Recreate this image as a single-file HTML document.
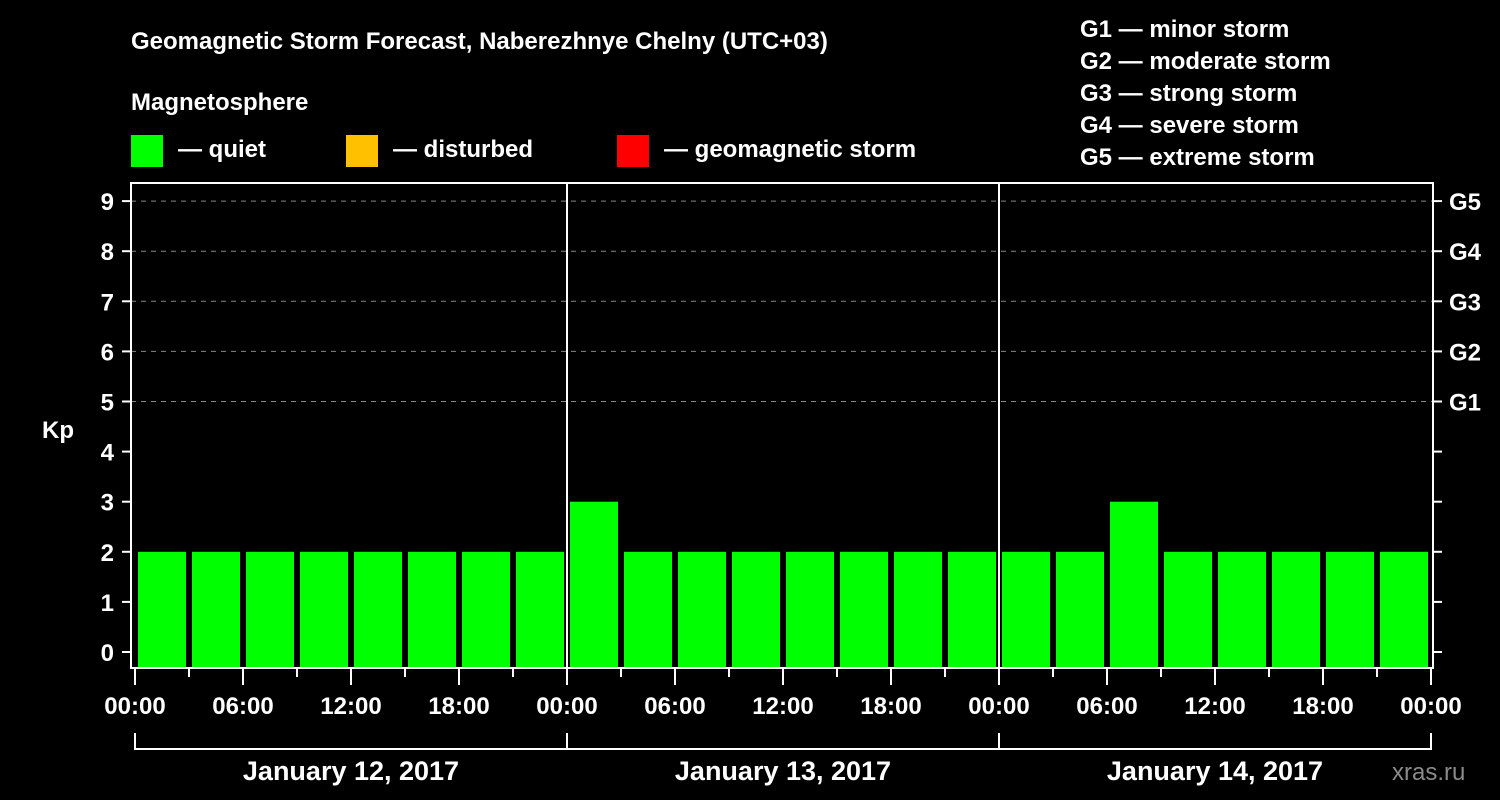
<!DOCTYPE html>
<html><head><meta charset="utf-8"><style>
html,body{margin:0;padding:0;background:#000;width:1500px;height:800px;overflow:hidden}
svg text{font-family:"Liberation Sans",Arial,sans-serif;font-weight:bold;fill:#fff}
</style></head><body>
<svg id="chart" width="1500" height="800" xmlns="http://www.w3.org/2000/svg">
<rect width="1500" height="800" fill="#000"/>
<text x="131" y="49" font-size="24">Geomagnetic Storm Forecast, Naberezhnye Chelny (UTC+03)</text>
<text x="131" y="110" font-size="24">Magnetosphere</text>
<g><rect x="131" y="135" width="32" height="32" fill="#00ff00"/><text x="178" y="157" font-size="24">— quiet</text></g>
<g><rect x="346" y="135" width="32" height="32" fill="#ffc000"/><text x="393" y="157" font-size="24">— disturbed</text></g>
<g><rect x="617" y="135" width="32" height="32" fill="#ff0000"/><text x="664" y="157" font-size="24">— geomagnetic storm</text></g>
<g font-size="24">
<text x="1080" y="37">G1 — minor storm</text>
<text x="1080" y="69">G2 — moderate storm</text>
<text x="1080" y="101">G3 — strong storm</text>
<text x="1080" y="133">G4 — severe storm</text>
<text x="1080" y="165">G5 — extreme storm</text>
</g>
<text x="42" y="438" font-size="24">Kp</text>
<g id="grid"></g><g id="bars"></g><g id="axes"></g>
<text x="1392" y="780" font-size="24" fill="#888" style="fill:#8a8a8a;font-weight:normal">xras.ru</text>
</svg>
<script>
const days=["January 12, 2017","January 13, 2017","January 14, 2017"];
const kpValues=[2,2,2,2,2,2,2,2, 3,2,2,2,2,2,2,2, 2,2,3,2,2,2,2,2];
const yTicks=[0,1,2,3,4,5,6,7,8,9];
const gLabels=["G1","G2","G3","G4","G5"];
const gLevels=[5,6,7,8,9];
const hourLabels=["00:00","06:00","12:00","18:00"];
const NS="http://www.w3.org/2000/svg";
const X0=135,DAY=432,TOP=183,BOT=668,L=131,R=1433;
const xs=h=>X0+h*DAY/24;
const ys=k=>652-k*50.1;
function mk(p,t,a){const e=document.createElementNS(NS,t);for(const k in a)e.setAttribute(k,a[k]);p.appendChild(e);return e;}
const grid=document.getElementById('grid'),bars=document.getElementById('bars'),ax=document.getElementById('axes');
gLevels.forEach(k=>{const l=mk(grid,'line',{x1:L,x2:R,y1:ys(k),y2:ys(k),stroke:'#888','stroke-dasharray':'5,5','stroke-width':1});

});
kpValues.forEach((v,i)=>{const x=xs(i*3);
const col=v>=5?'#ff0000':(v>=4?'#ffc000':'#00ff00');
const r=mk(bars,'rect',{x:x+3,y:ys(v),width:48,height:BOT-ys(v),fill:col});

});
const fr=mk(ax,'rect',{x:L,y:TOP,width:R-L,height:BOT-TOP,fill:'none',stroke:'#fff','stroke-width':2});


for(let d=1;d<days.length;d++){const l=mk(ax,'line',{x1:xs(d*24),x2:xs(d*24),y1:TOP,y2:BOT,stroke:'#fff','stroke-width':2});

}
yTicks.forEach(k=>{mk(ax,'line',{x1:122,x2:L,y1:ys(k),y2:ys(k),stroke:'#fff','stroke-width':2});
mk(ax,'line',{x1:R,x2:R+9,y1:ys(k),y2:ys(k),stroke:'#fff','stroke-width':2});
const t=mk(ax,'text',{x:114,y:ys(k)+9,'font-size':24,'text-anchor':'end'});t.textContent=k;

});
gLevels.forEach((k,i)=>{const t=mk(ax,'text',{x:1449,y:ys(k)+9,'font-size':24});t.textContent=gLabels[i];

});
for(let h=0;h<=days.length*24;h+=3){const major=h%6===0;
mk(ax,'line',{x1:xs(h),x2:xs(h),y1:BOT,y2:major?685:677,stroke:'#fff','stroke-width':2});
if(major){const t=mk(ax,'text',{x:xs(h),y:714,'font-size':24,'text-anchor':'middle'});t.textContent=hourLabels[(h/6)%4];

}}
mk(ax,'line',{x1:xs(0),x2:xs(days.length*24),y1:749,y2:749,stroke:'#fff','stroke-width':2});
for(let d=0;d<=days.length;d++)mk(ax,'line',{x1:xs(d*24),x2:xs(d*24),y1:733,y2:750,stroke:'#fff','stroke-width':2});
days.forEach((s,d)=>{const t=mk(ax,'text',{x:xs(d*24+12),y:780,'font-size':27,'text-anchor':'middle'});t.textContent=s;

});
</script>
</body></html>
